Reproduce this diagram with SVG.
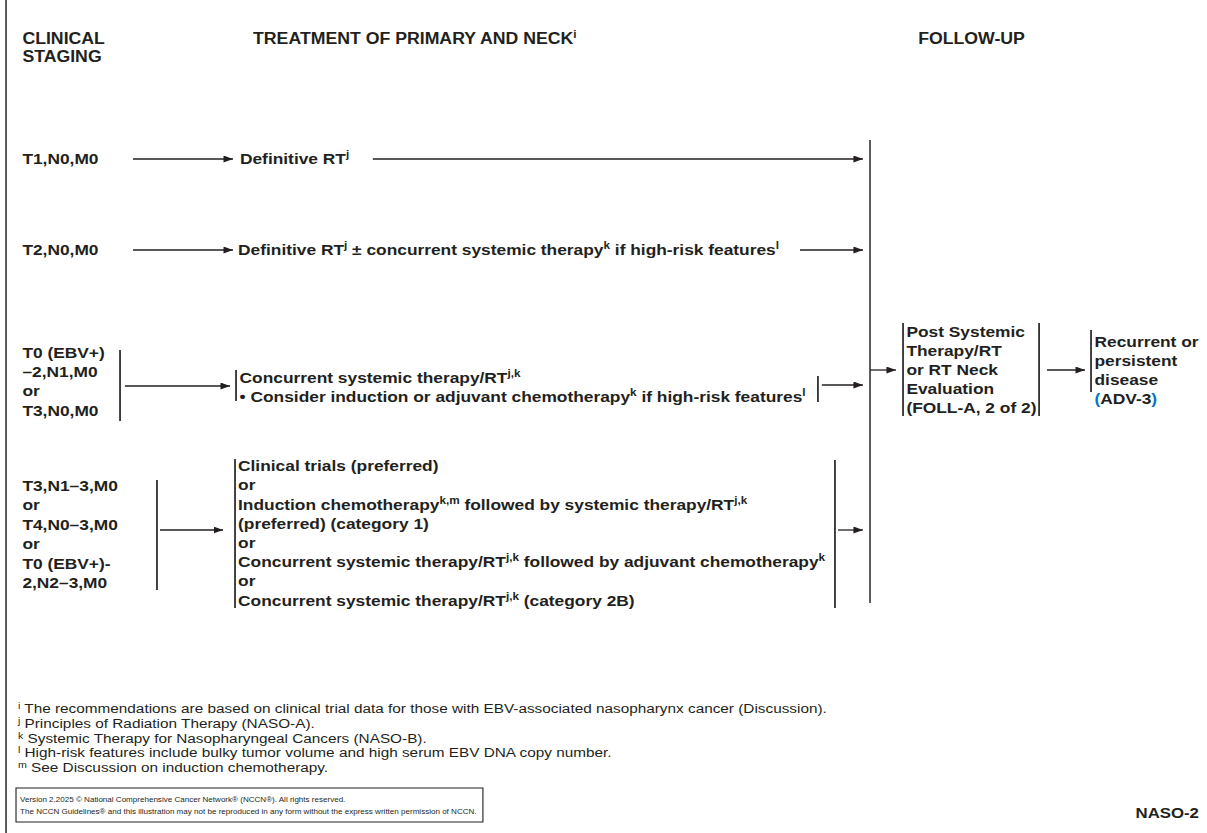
<svg xmlns="http://www.w3.org/2000/svg" width="1207" height="833" viewBox="0 0 1207 833">
<defs>
<style>
text{font-family:"Liberation Sans",Arial,sans-serif;fill:#231f20}
.b{font-weight:bold;font-size:15.5px}
.h{font-weight:bold;font-size:15.8px}
.fn{font-size:13.7px}
.cp{font-size:7.2px}
.s{font-size:10.5px}
.fs{font-size:9.5px}
.ln{stroke:#231f20;stroke-width:1.3;fill:none}
.br{stroke:#231f20;stroke-width:1.5;fill:none}
.ar{stroke:#231f20;stroke-width:1.3;fill:none;marker-end:url(#ah)}
.blue{fill:#0077c8}
</style>
<marker id="ah" markerUnits="userSpaceOnUse" markerWidth="10" markerHeight="8" refX="8.5" refY="3.5" orient="auto">
<path d="M0,0 L8.5,3.5 L0,7 z" fill="#231f20"/>
</marker>
</defs>
<rect width="1207" height="833" fill="#fff"/>
<g transform="scale(1.1197,1)">
<line class="ln" x1="5.4" y1="0" x2="5.4" y2="833"/>
<g id="headers">
<text class="h" x="20" y="44">CLINICAL</text>
<text class="h" x="20" y="62">STAGING</text>
<text class="h" x="226" y="44">TREATMENT OF PRIMARY AND NECK<tspan class="s" dy="-6">i</tspan></text>
<text class="h" x="820" y="44">FOLLOW-UP</text>
</g>
<g id="connectors">
<line class="ar" x1="118.8" y1="159" x2="208.1" y2="159"/>
<line class="ar" x1="333" y1="159" x2="770.7" y2="159"/>
<line class="ar" x1="118.8" y1="250" x2="208.1" y2="250"/>
<line class="ar" x1="714.5" y1="250" x2="770.7" y2="250"/>
<line class="ar" x1="111.6" y1="386" x2="205.4" y2="386"/>
<line class="ar" x1="734" y1="385" x2="770.7" y2="385"/>
<line class="ar" x1="142.9" y1="530" x2="199.2" y2="530"/>
<line class="ar" x1="748.4" y1="530" x2="770.7" y2="530"/>
<line class="ln" x1="777" y1="140" x2="777" y2="603"/>
<line class="ar" x1="777" y1="370" x2="800.2" y2="370"/>
<line class="ar" x1="935" y1="370" x2="969" y2="370"/>
</g>
<g id="t1n0m0">
<text class="b" x="20" y="164">T1,N0,M0</text>
</g>
<g id="def-rt">
<text class="b" x="214.3" y="164">Definitive RT<tspan class="s" dy="-6">j</tspan></text>
</g>
<g id="t2n0m0">
<text class="b" x="20" y="255">T2,N0,M0</text>
</g>
<g id="def-rt-sys">
<text class="b" x="212.6" y="255">Definitive RT<tspan class="s" dy="-6">j</tspan><tspan dy="6"> ± concurrent systemic therapy</tspan><tspan class="s" dy="-6">k</tspan><tspan dy="6"> if high-risk features</tspan><tspan class="s" dy="-6">l</tspan></text>
</g>
<g id="t0-n1">
<line class="br" x1="107.2" y1="350" x2="107.2" y2="421"/>
<text class="b" x="20" y="358">T0 (EBV+)</text>
<text class="b" x="20" y="377">–2,N1,M0</text>
<text class="b" x="20" y="396">or</text>
<text class="b" x="20" y="416">T3,N0,M0</text>
</g>
<g id="concurrent">
<line class="br" x1="210.8" y1="370" x2="210.8" y2="401"/>
<line class="br" x1="730.5" y1="376" x2="730.5" y2="402"/>
<text class="b" x="214" y="383">Concurrent systemic therapy/RT<tspan class="s" dy="-6">j,k</tspan></text>
<text class="b" x="214" y="402">• Consider induction or adjuvant chemotherapy<tspan class="s" dy="-6">k</tspan><tspan dy="6"> if high-risk features</tspan><tspan class="s" dy="-6">l</tspan></text>
</g>
<g id="post-eval">
<line class="br" x1="806.5" y1="323" x2="806.5" y2="416"/>
<line class="br" x1="928" y1="323" x2="928" y2="416"/>
<text class="b" x="809.5" y="337">Post Systemic</text>
<text class="b" x="809.5" y="356">Therapy/RT</text>
<text class="b" x="809.5" y="375">or RT Neck</text>
<text class="b" x="809.5" y="394">Evaluation</text>
<text class="b" x="809.5" y="413">(FOLL-A, 2 of 2)</text>
</g>
<g id="recurrent">
<line class="br" x1="974.4" y1="330" x2="974.4" y2="392"/>
<text class="b" x="977.5" y="347">Recurrent or</text>
<text class="b" x="977.5" y="366">persistent</text>
<text class="b" x="977.5" y="385">disease</text>
<text class="b" x="977.5" y="404"><tspan class="blue">(</tspan>ADV-3<tspan class="blue">)</tspan></text>
</g>
<g id="t3-n13">
<line class="br" x1="140.2" y1="480" x2="140.2" y2="590"/>
<text class="b" x="20" y="491">T3,N1–3,M0</text>
<text class="b" x="20" y="510">or</text>
<text class="b" x="20" y="530">T4,N0–3,M0</text>
<text class="b" x="20" y="549">or</text>
<text class="b" x="20" y="569">T0 (EBV+)-</text>
<text class="b" x="20" y="588">2,N2–3,M0</text>
</g>
<g id="options">
<line class="br" x1="209.9" y1="459" x2="209.9" y2="608"/>
<line class="br" x1="745.7" y1="460" x2="745.7" y2="608"/>
<text class="b" x="212.6" y="471">Clinical trials (preferred)</text>
<text class="b" x="212.6" y="490">or</text>
<text class="b" x="212.6" y="510">Induction chemotherapy<tspan class="s" dy="-6">k,m</tspan><tspan dy="6"> followed by systemic therapy/RT</tspan><tspan class="s" dy="-6">j,k</tspan></text>
<text class="b" x="212.6" y="529">(preferred) (category 1)</text>
<text class="b" x="212.6" y="548">or</text>
<text class="b" x="212.6" y="567">Concurrent systemic therapy/RT<tspan class="s" dy="-6">j,k</tspan><tspan dy="6"> followed by adjuvant chemotherapy</tspan><tspan class="s" dy="-6">k</tspan></text>
<text class="b" x="212.6" y="586">or</text>
<text class="b" x="212.6" y="606">Concurrent systemic therapy/RT<tspan class="s" dy="-6">j,k</tspan><tspan dy="6"> (category 2B)</tspan></text>
</g>
<g id="footnotes">
<text class="fn" x="16" y="713"><tspan class="fs" dy="-4">i</tspan><tspan dy="4"> The recommendations are based on clinical trial data for those with EBV-associated nasopharynx cancer (Discussion).</tspan></text>
<text class="fn" x="16" y="728"><tspan class="fs" dy="-4">j</tspan><tspan dy="4"> Principles of Radiation Therapy (NASO-A).</tspan></text>
<text class="fn" x="16" y="743"><tspan class="fs" dy="-4">k</tspan><tspan dy="4"> Systemic Therapy for Nasopharyngeal Cancers (NASO-B).</tspan></text>
<text class="fn" x="16" y="757"><tspan class="fs" dy="-4">l</tspan><tspan dy="4"> High-risk features include bulky tumor volume and high serum EBV DNA copy number.</tspan></text>
<text class="fn" x="16" y="772"><tspan class="fs" dy="-4">m</tspan><tspan dy="4"> See Discussion on induction chemotherapy.</tspan></text>
</g>
<g id="copyright">
<rect x="14.3" y="788" width="417" height="34" fill="none" stroke="#231f20" stroke-width="1"/>
<text class="cp" x="17.9" y="802">Version 2.2025 © National Comprehensive Cancer Network® (NCCN®). All rights reserved.</text>
<text class="cp" x="17.9" y="814">The NCCN Guidelines® and this illustration may not be reproduced in any form without the express written permission of NCCN.</text>
</g>
<g id="page-id">
<text class="b" x="1070.8" y="818" text-anchor="end" style="font-size:15px">NASO-2</text>
</g>
</g>
</svg>
